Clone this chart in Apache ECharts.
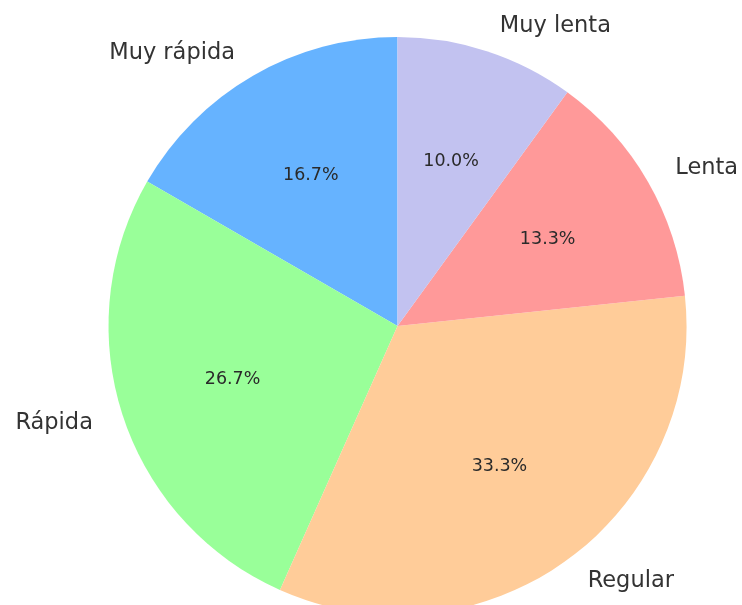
<!DOCTYPE html>
<html>
<head>
<meta charset="utf-8">
<script src="https://cdn.jsdelivr.net/npm/echarts@6/dist/echarts.min.js"></script>
<style>
  html, body { margin: 0; padding: 0; background: #ffffff; }
  #chart { width: 742px; height: 605px; }
</style>
</head>
<body>
<div id="chart"></div>
<script>
// Response-speed categories and their counts
const categories = ['Muy rápida', 'Rápida', 'Regular', 'Lenta', 'Muy lenta'];
const counts = [5, 8, 10, 4, 3];
const colors = ['#66b3ff', '#99ff99', '#ffcc99', '#ff9999', '#c2c2f0'];

const CX = 397.5, CY = 326, R = 289;
const FONT = '"DejaVu Sans", sans-serif';

const pieData = categories.map((name, i) => ({ name, value: counts[i] }));

const chart = echarts.init(document.getElementById('chart'), null, { renderer: 'canvas' });
chart.setOption({
  animation: false,
  backgroundColor: '#ffffff',
  series: [
    {
      // wedges with category names just outside the rim
      type: 'pie',
      center: [CX, CY],
      radius: [0, R],
      startAngle: 90,
      clockwise: false,
      avoidLabelOverlap: false,
      silent: true,
      data: pieData.map((d, i) => ({ ...d, itemStyle: { color: colors[i] } })),
      itemStyle: { borderWidth: 0 },
      label: {
        show: true,
        position: 'outside',
        formatter: '{b}',
        fontFamily: FONT,
        fontSize: 22.5,
        color: '#333333',
        distanceToLabelLine: 5
      },
      labelLine: { show: false, length: 26, length2: 0 },
      emphasis: { disabled: true }
    },
    {
      // transparent ring that carries the percentage labels
      type: 'pie',
      center: [CX, CY],
      radius: [R * 0.2 - 6, R],
      startAngle: 90,
      clockwise: false,
      avoidLabelOverlap: false,
      silent: true,
      percentPrecision: 1,
      data: pieData,
      itemStyle: { color: 'rgba(0,0,0,0)', borderWidth: 0 },
      label: {
        show: true,
        position: 'inside',
        formatter: p => p.percent.toFixed(1) + '%',
        fontFamily: FONT,
        fontSize: 17.5,
        color: '#2a2a2a'
      },
      labelLine: { show: false },
      emphasis: { disabled: true }
    }
  ]
});
</script>
</body>
</html>
